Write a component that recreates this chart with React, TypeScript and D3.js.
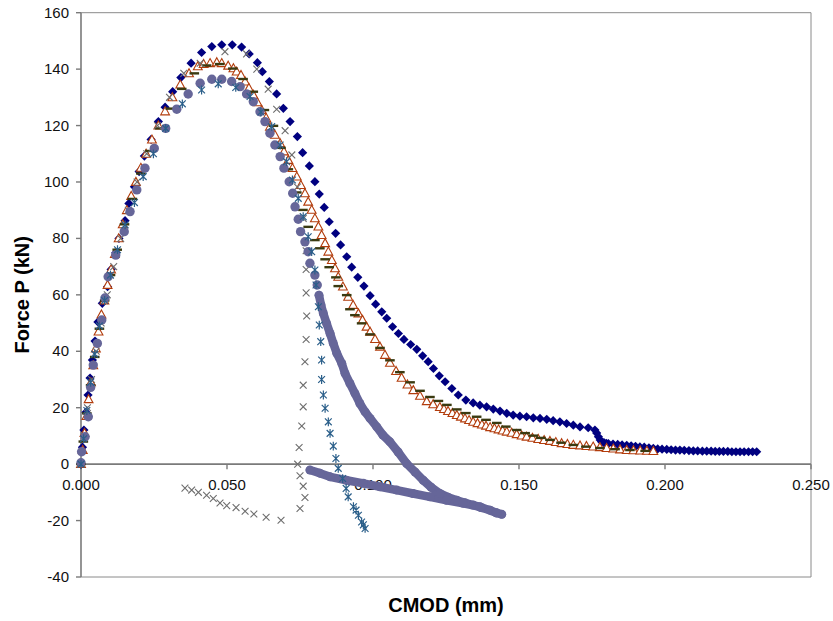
import React from 'react';
import * as d3 from 'd3';

const W = 833;
const H = 621;

const xTicks = [0, 0.05, 0.1, 0.15, 0.2, 0.25];
const yTicks = [-40, -20, 0, 20, 40, 60, 80, 100, 120, 140, 160];
const xTitle = 'CMOD (mm)';
const yTitle = 'Force P (kN)';

// Series 1: navy diamonds
const diamondPts: [number, number][] = [
  [0, 0], [0.0005, 6.0], [0.001, 12.1], [0.0017, 18.4], [0.0024, 24.5], [0.0031, 30.5], [0.0039, 36.9],
  [0.0048, 43.6], [0.0058, 50.4], [0.0073, 57.0], [0.0091, 62.9], [0.0103, 69.0], [0.0119, 74.9],
  [0.013, 80.0], [0.0151, 86.3], [0.0164, 92.4], [0.0183, 98.3], [0.0199, 103.7], [0.0217, 109.2],
  [0.024, 115.1], [0.0265, 121.4], [0.0288, 126.5], [0.0314, 132.0], [0.0342, 137.0], [0.0377, 142.1],
  [0.0413, 145.9], [0.0448, 148.0], [0.0482, 148.6], [0.0518, 148.6], [0.055, 147.8], [0.0576, 145.4],
  [0.0604, 142.3], [0.0621, 139.1], [0.0645, 135.6], [0.067, 131.2], [0.0693, 126.1], [0.0716, 121.4],
  [0.0741, 116.1], [0.0759, 110.4], [0.0782, 105.7], [0.0801, 100.1], [0.0816, 95.7], [0.0833, 91.0],
  [0.085, 85.9], [0.0872, 81.8], [0.0889, 77.7], [0.091, 73.5], [0.0927, 69.8], [0.0948, 66.2],
  [0.0969, 63.1], [0.099, 59.7], [0.1009, 56.7], [0.103, 54.0], [0.1047, 51.7], [0.1067, 48.7],
  [0.1087, 46.3], [0.1106, 44.2], [0.1129, 42.4], [0.115, 40.7], [0.117, 38.4], [0.1189, 36.3],
  [0.1207, 33.9], [0.1227, 31.3], [0.1247, 29.2], [0.127, 26.8], [0.1292, 24.5], [0.1318, 22.7],
  [0.1343, 21.7], [0.1366, 20.9], [0.1389, 20.3], [0.1412, 19.5], [0.1435, 18.8], [0.1458, 18.0],
  [0.148, 17.4], [0.1503, 17.0], [0.1526, 16.8], [0.1549, 16.4], [0.1572, 16.2], [0.1595, 15.9],
  [0.1617, 15.4], [0.164, 15.0], [0.1663, 14.4], [0.1686, 13.8], [0.1709, 13.2], [0.1737, 12.9],
  [0.176, 12.1], [0.1766, 11.0], [0.1772, 9.7], [0.1778, 8.6], [0.1783, 7.9], [0.1791, 7.6], [0.1799, 7.4],
  [0.1806, 7.3], [0.1822, 7.1], [0.1838, 7.0], [0.1853, 6.8], [0.1869, 6.7], [0.1884, 6.5], [0.1899, 6.3],
  [0.1914, 6.1], [0.1929, 6.0], [0.1945, 5.8], [0.196, 5.6], [0.1975, 5.4], [0.199, 5.3], [0.2006, 5.2],
  [0.2021, 5.1], [0.2036, 5.0], [0.2051, 5.0], [0.2066, 4.9], [0.2082, 4.8], [0.2097, 4.7], [0.2112, 4.7],
  [0.2128, 4.6], [0.2143, 4.6], [0.2158, 4.6], [0.2172, 4.5], [0.2186, 4.5], [0.22, 4.5], [0.2215, 4.5],
  [0.2229, 4.4], [0.2243, 4.4], [0.2257, 4.4], [0.2271, 4.4], [0.2286, 4.4], [0.23, 4.4], [0.2314, 4.4],
];

// Series 2: open triangles
const trianglePts: [number, number][] = [
  [0, 0], [0.0006, 5], [0.0012, 11], [0.0019, 17], [0.0026, 23], [0.0034, 29], [0.0042, 35], [0.0051, 41],
  [0.006, 47], [0.007, 53], [0.008, 58], [0.0091, 63.5], [0.0103, 69], [0.0116, 74.5], [0.0129, 80],
  [0.0143, 85], [0.0157, 90], [0.0172, 95], [0.0188, 100], [0.0205, 105], [0.0223, 110], [0.0243, 115],
  [0.0265, 120], [0.0288, 125], [0.0313, 130], [0.034, 134.5], [0.037, 138.5], [0.04, 141], [0.042, 141.8],
  [0.0442, 142.1], [0.0465, 142.4], [0.0482, 142.1], [0.0504, 141.2], [0.0522, 140.3], [0.0533, 139.1],
  [0.0548, 137.9], [0.0562, 135.6], [0.0575, 133.3], [0.059, 130.9], [0.0604, 128.2], [0.0619, 125.5],
  [0.0634, 122.7], [0.0647, 119.6], [0.0664, 116.7], [0.0682, 113.7], [0.0695, 110.8], [0.071, 107.8],
  [0.0724, 104.9], [0.0739, 101.9], [0.0753, 98.9], [0.0767, 96.0], [0.0778, 93.0], [0.079, 90.1],
  [0.0801, 87.1], [0.0813, 84.2], [0.0824, 81.2], [0.0836, 78.3], [0.0847, 75.3], [0.0859, 72.3],
  [0.087, 69.4], [0.0881, 66.4], [0.0897, 62.9], [0.0915, 59.3], [0.0932, 56.4], [0.095, 53.4],
  [0.0964, 51.1], [0.0978, 48.7], [0.099, 46.9], [0.1007, 44.3], [0.1024, 41.6], [0.1041, 38.7],
  [0.1058, 35.9], [0.1079, 33.0], [0.1098, 30.6], [0.1118, 28.2], [0.1138, 26.2], [0.1161, 24.2],
  [0.1184, 22.3], [0.1206, 21.2], [0.1229, 20.2], [0.1243, 19.5], [0.1257, 18.8], [0.1272, 18.1],
  [0.1287, 17.4], [0.1301, 16.8], [0.1315, 16.2], [0.1329, 15.6], [0.1343, 15.0], [0.1358, 14.5],
  [0.1373, 14.0], [0.1387, 13.6], [0.1401, 13.1], [0.1416, 12.7], [0.143, 12.3], [0.1444, 11.9],
  [0.1458, 11.5], [0.1475, 11.1], [0.1492, 10.6], [0.1509, 10.1], [0.1526, 9.7], [0.1546, 9.3],
  [0.1566, 8.9], [0.1586, 8.5], [0.1606, 8.2], [0.1626, 7.8], [0.1646, 7.4], [0.1666, 7.1], [0.1686, 6.8],
  [0.1709, 6.6], [0.1731, 6.4], [0.1754, 6.2], [0.1777, 6.0], [0.18, 5.7], [0.1823, 5.5], [0.1846, 5.2],
  [0.1869, 5.0], [0.1892, 4.9], [0.1915, 4.8], [0.1938, 4.7], [0.196, 4.6],
];

// Series 3: olive dashes
const dashPts: [number, number][] = [
  [0, 0], [0.0008, 8], [0.002, 18], [0.0033, 28], [0.0047, 38], [0.0063, 48], [0.0081, 58], [0.0101, 67],
  [0.0124, 76], [0.0149, 85], [0.0176, 94], [0.0205, 103], [0.0236, 111], [0.027, 119], [0.0306, 126],
  [0.0345, 133], [0.0388, 138.5], [0.043, 141.3], [0.0475, 141.8], [0.052, 140.2], [0.0555, 136.5],
  [0.059, 132.0], [0.0628, 125.5], [0.0659, 119.9], [0.0685, 112.1], [0.071, 104.5], [0.0739, 96.3],
  [0.076, 90.1], [0.0778, 84.1], [0.0801, 79.4], [0.0818, 76.5], [0.0836, 72.6], [0.085, 69.8],
  [0.0873, 66.2], [0.0881, 63.1], [0.091, 59.9], [0.0921, 54.9], [0.0938, 52.8], [0.0961, 49.9],
  [0.099, 46.0], [0.1024, 41.2], [0.1058, 36.8], [0.1092, 32.6], [0.1127, 29.0], [0.1161, 26.0],
  [0.1195, 23.8], [0.1224, 22.4], [0.1253, 21.0], [0.1287, 19.4], [0.1318, 18.1], [0.1355, 16.8],
  [0.1387, 15.7], [0.1424, 14.6], [0.1455, 13.3], [0.1492, 12.1], [0.1521, 11.0], [0.1549, 10.1],
  [0.1575, 9.3], [0.1606, 8.6], [0.1644, 7.6], [0.1686, 6.8], [0.1729, 6.2], [0.1777, 5.7],
  [0.1829, 5.3], [0.188, 5.0], [0.1932, 4.7],
];

// Series 4: grey crosses
const crossPts: [number, number][] = [
  [0, 0], [0.001, 10], [0.0022, 20], [0.0036, 30], [0.0052, 40], [0.0069, 50], [0.009, 60], [0.0112, 70],
  [0.0136, 80], [0.0162, 90], [0.0192, 100], [0.0225, 110], [0.0262, 120], [0.0303, 130], [0.0352, 138.5],
  [0.0408, 142.1], [0.0493, 146.2], [0.0567, 145.4], [0.0602, 140.0], [0.0641, 132.9], [0.067, 125.8],
  [0.0699, 118.2], [0.0722, 109.6], [0.0741, 98.2], [0.0761, 87.1], [0.0771, 75.6], [0.0771, 69.0],
  [0.0771, 60.7], [0.0773, 52.5], [0.0771, 44.2], [0.0767, 36.3], [0.0761, 28.0], [0.0761, 20.3],
  [0.0756, 13.5], [0.0747, 5.9], [0.0742, 0], [0.075, -4.1], [0.0761, -7.8], [0.0767, -11.8], [0.075, -15.7],
  [0.0356, -8.5], [0.0379, -9.2], [0.0402, -10.0], [0.043, -11.0], [0.0453, -12.2], [0.0476, -13.8],
  [0.0499, -14.7], [0.0531, -15.4], [0.0562, -16.7], [0.0592, -17.7], [0.0634, -18.8], [0.0685, -19.9],
];

// Series 5: blue asterisks
const asteriskPts: [number, number][] = [
  [0, 0], [0.0009, 9], [0.002, 19], [0.0033, 29], [0.0047, 39], [0.0063, 49], [0.0081, 58], [0.0101, 67],
  [0.0125, 76], [0.0151, 84.8], [0.0183, 92.7], [0.0213, 101.9], [0.0248, 110], [0.029, 119], [0.0347, 127.7],
  [0.0413, 132.6], [0.047, 134.8], [0.053, 133.5], [0.0579, 130.3], [0.0616, 124.8], [0.0653, 119.6],
  [0.0682, 113.1], [0.0704, 107.2], [0.0724, 100.7], [0.0744, 94.2], [0.0761, 87.7], [0.0778, 80.6],
  [0.079, 75.3], [0.0801, 68.8], [0.0805, 63.5], [0.0813, 55.8], [0.0816, 49.3], [0.0821, 43.4],
  [0.0824, 36.9], [0.0824, 30.0], [0.083, 24.5], [0.0836, 19.8], [0.0847, 15.0], [0.0853, 10.9],
  [0.0864, 6.4], [0.0873, 2.0], [0.0881, -1.5], [0.0896, -5.1], [0.0908, -8.6], [0.0915, -11.6],
  [0.0933, -15.1], [0.0942, -16.3], [0.095, -18.1], [0.0961, -20.5], [0.0967, -21.5], [0.0973, -22.8],
];

// Series 6: slate circles (rising part, then dense part)
const circlePts: [number, number][] = [
  [0, 0.5], [0.0002, 4.4], [0.0014, 9.7], [0.0025, 16.8], [0.0033, 27.2], [0.0042, 35.1], [0.0056, 42.8],
  [0.0071, 51.1], [0.0082, 58.9], [0.0093, 66.4], [0.0119, 74.1], [0.0148, 82.4], [0.0168, 89.5],
  [0.0191, 97.2], [0.0219, 104.9], [0.0251, 111.9], [0.029, 119.0], [0.0328, 125.8], [0.0367, 131.2],
  [0.0408, 135.0], [0.0448, 136.4], [0.0482, 136.4], [0.0516, 135.6], [0.0545, 133.8], [0.0567, 131.2],
  [0.059, 128.5], [0.0613, 124.9], [0.063, 121.4], [0.0647, 117.3], [0.0664, 113.1], [0.0682, 109.0],
  [0.0695, 104.9], [0.0713, 100.1], [0.0725, 96.0], [0.0733, 91.2], [0.0744, 86.8], [0.0752, 82.4],
  [0.0767, 78.8], [0.0778, 75.3], [0.0784, 71.2], [0.0801, 67.0], [0.0809, 63.5],
];
const circleBandPts: [number, number][] = [
  [0.0815, 59.9], [0.0822, 56.4], [0.083, 53.4], [0.0841, 49.9], [0.0853, 46.3], [0.0864, 42.8],
  [0.0876, 39.3], [0.0893, 35.7], [0.0904, 32.2], [0.0921, 28.6], [0.0938, 25.1], [0.0955, 21.5],
  [0.0973, 18.5], [0.099, 16.2], [0.1013, 13.2], [0.1034, 10.3], [0.1058, 7.9], [0.1086, 4.3],
  [0.1115, 0.2], [0.1144, -2.8], [0.1172, -5.7], [0.1199, -8.2], [0.1229, -10.4], [0.1257, -11.7],
  [0.1287, -12.8], [0.1315, -13.7], [0.1343, -14.5], [0.137, -15.4], [0.1401, -16.3], [0.1421, -17.2],
  [0.1441, -17.8], [0.1424, -17.3], [0.1366, -15.1], [0.1309, -13.9], [0.1252, -12.8], [0.1195, -11.6],
  [0.1137, -10.4], [0.1081, -9.2], [0.1024, -8.0], [0.0967, -6.8], [0.0909, -5.7], [0.0853, -4.5],
  [0.0818, -3.2], [0.0784, -2.1],
];

const PLOT = { left: 81, right: 811, top: 12.7, bottom: 577 };
const FONT = '"Liberation Sans", Arial, sans-serif';

const DIAMOND = 'M0,-4.6L4.6,0L0,4.6L-4.6,0Z';
const TRIANGLE = 'M0,-4.6L4.4,3.4L-4.4,3.4Z';
const CROSS = 'M-3.4,-3.4L3.4,3.4M-3.4,3.4L3.4,-3.4';
const ASTER = 'M-3.4,-3.4L3.4,3.4M-3.4,3.4L3.4,-3.4M0,-4.4L0,4.4';
const DASH = 'M-4.8,0L4.8,0';

export default function App() {
  const x = d3.scaleLinear().domain([0, 0.25]).range([PLOT.left, PLOT.right]);
  const y = d3.scaleLinear().domain([-40, 160]).range([PLOT.bottom, PLOT.top]);
  const fmtX = d3.format('.3f');
  const y0 = y(0);
  const bandLine = d3.line<[number, number]>().x((d) => x(d[0])).y((d) => y(d[1]));

  const markers = (pts: [number, number][], path: string, props: any, key: string) =>
    pts.map((d, i) => (
      <path key={key + i} d={path} transform={`translate(${x(d[0])},${y(d[1])})`} {...props} />
    ));

  return (
    <svg width={W} height={H} style={{ position: 'absolute', left: 0, top: 0, background: '#fff' }}>
      <rect x={0} y={0} width={W} height={H} fill="#fff" />
      {/* plot border */}
      <path
        d={`M${PLOT.left},${PLOT.top}H${PLOT.right}V${PLOT.bottom}H${PLOT.left}`}
        fill="none"
        stroke="#8a8a8a"
        strokeWidth={1}
      />
      {/* y axis */}
      <line x1={PLOT.left} x2={PLOT.left} y1={PLOT.top} y2={PLOT.bottom} stroke="#7a7a7a" strokeWidth={1.6} />
      {yTicks.map((t) => (
        <g key={'yt' + t}>
          <line x1={PLOT.left - 5} x2={PLOT.left} y1={y(t)} y2={y(t)} stroke="#7a7a7a" strokeWidth={1.4} />
          <text x={PLOT.left - 12} y={y(t) + 5} textAnchor="end" fontFamily={FONT} fontSize={15} fill="#111">
            {t}
          </text>
        </g>
      ))}
      {/* x axis at zero */}
      <line x1={PLOT.left} x2={PLOT.right} y1={y0} y2={y0} stroke="#7a7a7a" strokeWidth={1.6} />
      {xTicks.map((t) => (
        <g key={'xt' + t}>
          <line x1={x(t)} x2={x(t)} y1={y0} y2={y0 + 5} stroke="#7a7a7a" strokeWidth={1.4} />
          <text x={x(t)} y={y0 + 26} textAnchor="middle" fontFamily={FONT} fontSize={15} fill="#111">
            {fmtX(t)}
          </text>
        </g>
      ))}

      {/* series */}
      {markers(diamondPts, DIAMOND, { fill: '#000080' }, 'd')}
      {markers(trianglePts, TRIANGLE, { fill: '#fff', stroke: '#b23c0c', strokeWidth: 1.1 }, 't')}
      {markers(dashPts, DASH, { stroke: '#3a3a10', strokeWidth: 2.4 }, 'h')}
      {markers(crossPts, CROSS, { stroke: '#6e6e6e', strokeWidth: 1.1, fill: 'none' }, 'x')}
      <path
        d={bandLine(circleBandPts) || ''}
        fill="none"
        stroke="#666699"
        strokeWidth={8.5}
        strokeLinejoin="round"
        strokeLinecap="round"
      />
      {circlePts.map((d, i) => (
        <circle key={'c' + i} cx={x(d[0])} cy={y(d[1])} r={4.7} fill="#666699" />
      ))}
      {circleBandPts.map((d, i) => (
        <circle key={'cb' + i} cx={x(d[0])} cy={y(d[1])} r={4.5} fill="#666699" />
      ))}
      {markers(asteriskPts, ASTER, { stroke: '#2b5f8a', strokeWidth: 1.2, fill: 'none' }, 'a')}

      {/* titles */}
      <text
        x={(PLOT.left + PLOT.right) / 2}
        y={612}
        textAnchor="middle"
        fontFamily={FONT}
        fontWeight="bold"
        fontSize={20}
        fill="#000"
      >
        {xTitle}
      </text>
      <text
        transform={`translate(29,${(PLOT.top + PLOT.bottom) / 2}) rotate(-90)`}
        textAnchor="middle"
        fontFamily={FONT}
        fontWeight="bold"
        fontSize={20}
        fill="#000"
      >
        {yTitle}
      </text>
    </svg>
  );
}
